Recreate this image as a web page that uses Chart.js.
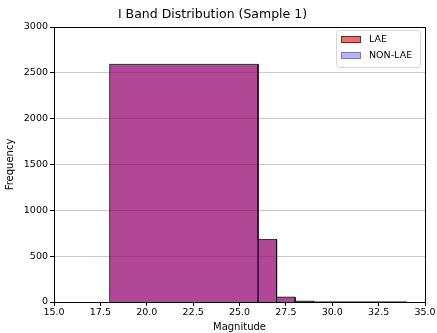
<!DOCTYPE html>
<html><head><meta charset="utf-8">
<script src="https://cdn.jsdelivr.net/npm/chart.js@4/dist/chart.umd.min.js"></script>
<style>html,body{margin:0;padding:0;background:#fff}#wrap{width:437px;height:333px}</style>
</head><body><div id="wrap"><canvas id="c" width="437" height="333"></canvas></div>
<script>
const binEdges = [18, 26, 27, 28, 29, 34];
const laeCounts = [2592, 682, 52, 8, 1];
const nonLaeCounts = [2592, 682, 52, 8, 1];
const seriesNames = ['LAE', 'NON-LAE'];
const xTicks = [15, 17.5, 20, 22.5, 25, 27.5, 30, 32.5, 35];
const yTicks = [0, 500, 1000, 1500, 2000, 2500, 3000];

function histPoints(edges, counts) {
  const pts = [];
  for (let i = 0; i < counts.length; i++) {
    pts.push({x: edges[i], y: 0}, {x: edges[i], y: counts[i]}, {x: edges[i+1], y: counts[i]}, {x: edges[i+1], y: 0});
  }
  return pts;
}
const FONT = 'DejaVu Sans';
const frame = {
  id: 'frame',
  afterDraw(chart) {
    const {ctx, chartArea: a} = chart;
    ctx.save();
    ctx.strokeStyle = '#000'; ctx.lineWidth = 1;
    ctx.strokeRect(Math.round(a.left)+0.5, Math.round(a.top)+0.5, Math.round(a.right-a.left), Math.round(a.bottom-a.top));
    // legend
    const lx = 336, ly = 30, lw = 84, lh = 37;
    ctx.fillStyle = 'rgba(255,255,255,0.8)';
    ctx.strokeStyle = '#d6d6d6';
    ctx.beginPath();
    if (ctx.roundRect) ctx.roundRect(lx+0.5, ly+0.5, lw, lh, 3); else ctx.rect(lx+0.5, ly+0.5, lw, lh);
    ctx.fill(); ctx.stroke();
    const items = [
      {face: 'rgba(255,0,0,0.6)', edge: 'rgba(0,0,0,0.6)'},
      {face: 'rgba(0,0,255,0.3)', edge: 'rgba(0,0,0,0.3)'}
    ];
    ctx.font = '9.5px ' + FONT;
    ctx.textBaseline = 'middle';
    items.forEach((it, i) => {
      const y = ly + 6 + i * 16;
      ctx.fillStyle = it.face; ctx.fillRect(lx + 5, y, 20, 7);
      ctx.strokeStyle = it.edge; ctx.strokeRect(lx + 5.5, y + 0.5, 19, 6);
      ctx.fillStyle = '#000';
      ctx.fillText(seriesNames[i], lx + 33, y + 4);
    });
    ctx.restore();
  }
};
new Chart(document.getElementById('c'), {
  type: 'line',
  data: {
    datasets: [
      {label: seriesNames[0], data: histPoints(binEdges, laeCounts), fill: 'origin', order: 2,
       backgroundColor: 'rgba(255,0,0,0.6)', borderColor: 'rgba(0,0,0,0.6)', borderWidth: 1, pointRadius: 0, tension: 0},
      {label: seriesNames[1], data: histPoints(binEdges, nonLaeCounts), fill: 'origin', order: 1,
       backgroundColor: 'rgba(0,0,255,0.3)', borderColor: 'rgba(0,0,0,0.3)', borderWidth: 1, pointRadius: 0, tension: 0}
    ]
  },
  options: {
    responsive: false, animation: false, devicePixelRatio: 1,
    layout: {padding: {left: 0, right: 12, top: 0, bottom: 0}},
    plugins: {
      legend: {display: false}, tooltip: {enabled: false},
      title: {display: true, text: 'I Band Distribution (Sample 1)', color: '#000',
        font: {family: FONT, size: 12.5, weight: 'normal'}, padding: {top: 7, bottom: 5}}
    },
    scales: {
      x: {type: 'linear', min: 15, max: 35,
        afterBuildTicks(ax) { ax.ticks = xTicks.map(v => ({value: v})); },
        afterFit(ax) { ax.height = 31; },
        ticks: {color: '#000', font: {family: FONT, size: 9.5}, padding: 1, maxRotation: 0, autoSkip: false,
          callback: v => Number(v).toFixed(1)},
        grid: {drawOnChartArea: false, tickLength: 4, tickColor: '#000'},
        border: {color: '#000'},
        title: {display: true, text: 'Magnitude', color: '#000', font: {family: FONT, size: 10}, padding: {top: 0, bottom: 0}}
      },
      y: {min: 0, max: 3000,
        afterBuildTicks(ax) { ax.ticks = yTicks.map(v => ({value: v})); },
        afterFit(ax) { ax.width = 54; },
        ticks: {color: '#000', font: {family: FONT, size: 9.5}, padding: 2, autoSkip: false,
          callback: v => String(v)},
        grid: {color: '#cccccc', tickLength: 4, tickColor: '#000'},
        border: {color: '#000'},
        title: {display: true, text: 'Frequency', color: '#000', font: {family: FONT, size: 10}, padding: {top: 4, bottom: 2}}
      }
    }
  },
  plugins: [frame]
});
</script></body></html>
